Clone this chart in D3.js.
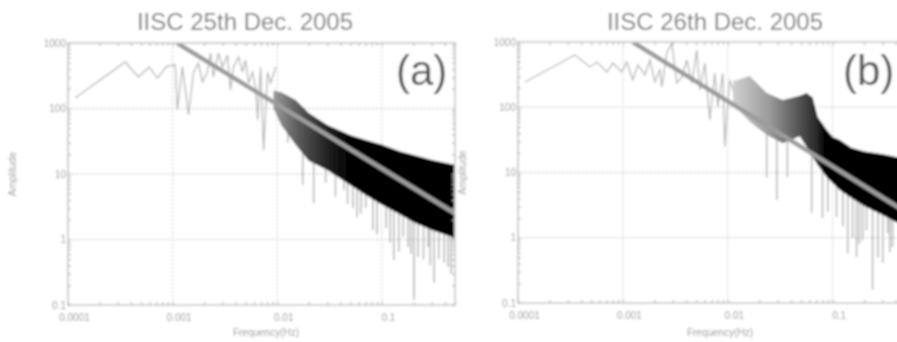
<!DOCTYPE html>
<html>
<head>
<meta charset="utf-8">
<script src="https://d3js.org/d3.v7.min.js"></script>
<style>
  body { margin: 0; background: white; }
  svg { display: block; font-family: "Liberation Sans", Arial, sans-serif; }
</style>
</head>
<body>
<div id="chart"></div>
<script>
// axis ticks shared by both panels
var xTicks = [0.0001, 0.001, 0.01, 0.1];
var xTickLabels = ["0.0001", "0.001", "0.01", "0.1"];
var yTicks = [0.1, 1, 10, 100, 1000];
var yTickLabels = ["0.1", "1", "10", "100", "1000"];

// panel (a) - IISC 25th Dec. 2005
var titleA = "IISC 25th Dec. 2005";
var lowFreqA = [1.17e-4, 3.52e-4, 4.69e-4, 5.98e-4, 7.14e-4, 8.89e-4, 1.06e-3, 1.11e-3, 1.24e-3, 1.42e-3, 1.58e-3,
  1.76e-3, 1.93e-3, 2.15e-3, 2.30e-3, 2.45e-3, 2.74e-3, 3.00e-3, 3.34e-3, 3.57e-3, 3.82e-3, 4.27e-3, 4.66e-3,
  4.97e-3, 5.32e-3, 5.81e-3, 6.21e-3, 6.49e-3, 6.93e-3, 7.41e-3, 8.09e-3, 8.65e-3, 9.66e-3];
var lowAmpA = [145, 513, 303, 431, 292, 446, 461, 95, 431, 80, 348, 495, 254, 360, 703, 303, 703, 431, 656, 191,
  431, 611, 360, 550, 245, 360, 206, 67, 431, 23, 360, 245, 431];
var bandFreqA = [0.0092, 0.011, 0.015, 0.02, 0.03, 0.05, 0.07, 0.1, 0.15, 0.2, 0.3, 0.5];
var bandHighA = [190, 175, 135, 85, 56, 39, 33, 28, 22, 19.5, 16.4, 13.7];
var bandLowA  = [100, 55, 28, 16, 11.5, 6.8, 4.8, 3.4, 2.4, 1.85, 1.4, 1.05];
var spikeFreqA = [0.0126, 0.0175, 0.0223, 0.029, 0.036, 0.0434, 0.047, 0.0528, 0.058, 0.063, 0.07, 0.082, 0.09,
  0.098, 0.11, 0.12, 0.13, 0.145, 0.16, 0.178, 0.19, 0.203, 0.222, 0.25, 0.277, 0.29, 0.316, 0.35, 0.394, 0.43,
  0.46, 0.48];
var spikeAmpA = [30, 6.8, 3.6, 7.3, 4.5, 5.7, 3.5, 3.0, 2.2, 2.5, 3.0, 1.4, 1.2, 4.0, 1.5, 0.9, 0.49, 0.65, 1.1,
  0.77, 0.6, 0.12, 0.54, 0.5, 0.77, 0.4, 0.22, 0.5, 0.44, 0.38, 0.3, 0.98];
var fitFreqA = [0.0011, 0.5];
var fitAmpA = [1000, 2.5];

// panel (b) - IISC 26th Dec. 2005
var titleB = "IISC 26th Dec. 2005";
var lowFreqB = [1.17e-4, 3.49e-4, 4.85e-4, 5.65e-4, 7.05e-4, 8.03e-4, 9.78e-4, 1.09e-3, 1.24e-3, 1.39e-3, 1.62e-3,
  1.81e-3, 2.02e-3, 2.25e-3, 2.35e-3, 2.62e-3, 2.93e-3, 3.27e-3, 3.65e-3, 4.07e-3, 4.54e-3, 5.07e-3, 5.41e-3,
  6.04e-3, 6.74e-3, 7.52e-3, 8.03e-3, 8.96e-3, 9.35e-3, 1.04e-2, 1.17e-2];
var lowAmpB = [244, 632, 414, 493, 347, 476, 347, 493, 262, 445, 312, 530, 244, 372, 204, 678, 966, 235, 291, 530,
  235, 754, 184, 476, 64, 335, 101, 335, 25, 262, 154];
var bandFreqB = [0.0112, 0.0162, 0.0235, 0.0334, 0.0485, 0.0565, 0.0645, 0.072, 0.0877, 0.1, 0.117, 0.15, 0.2,
  0.3, 0.4, 0.5];
var bandHighB = [250, 300, 165, 129, 150, 165, 140, 71, 45, 35, 31.5, 24, 21, 19, 17.3, 16];
var bandLowB  = [110, 60, 38, 28, 36, 24.6, 17.3, 13, 8.5, 6.9, 5.4, 4.1, 3.07, 2.23, 1.74, 1.5];
var spikeFreqB = [0.0235, 0.0293, 0.037, 0.063, 0.08, 0.09, 0.109, 0.125, 0.139, 0.155, 0.169, 0.18, 0.193, 0.21,
  0.24, 0.27, 0.30, 0.334, 0.35, 0.372];
var spikeAmpB = [8.5, 3.8, 8.5, 2.4, 2.0, 2.5, 2.1, 1.5, 0.58, 1.0, 0.51, 0.8, 0.92, 1.3, 0.16, 0.5, 0.41, 1.18,
  0.6, 0.72];
var fitFreqB = [0.00124, 0.5];
var fitAmpB = [1000, 2.48];

var W = 897, H = 342;
var svg = d3.select("#chart").append("svg").attr("width", W).attr("height", H);
var defs = svg.append("defs");

// the reference is a soft, low-resolution scan
defs.append("filter").attr("id", "soft")
  .attr("filterUnits", "userSpaceOnUse")
  .attr("x", 0).attr("y", 0).attr("width", W).attr("height", H)
  .append("feGaussianBlur").attr("stdDeviation", 1.0);

var root = svg.append("g").attr("filter", "url(#soft)");
root.append("rect").attr("width", W).attr("height", H).attr("fill", "white");

var panels = [
  {id: "a", title: titleA, tag: "(a)", left: 68, top: 43, width: 387, height: 262, titleX: 245, tagX: 396, xLabelX: 266,
   lowF: lowFreqA, lowA: lowAmpA, bandF: bandFreqA, bandHigh: bandHighA, bandLow: bandLowA,
   spikeF: spikeFreqA, spikeA: spikeAmpA, fitF: fitFreqA, fitA: fitAmpA,
   shade: [[0.0092, "#9a9a9a"], [0.016, "#5a5a5a"], [0.03, "#222"], [0.05, "#000"]]},
  {id: "b", title: titleB, tag: "(b)", left: 518, top: 42, width: 388, height: 261, titleX: 715, tagX: 843, xLabelX: 720,
   lowF: lowFreqB, lowA: lowAmpB, bandF: bandFreqB, bandHigh: bandHighB, bandLow: bandLowB,
   spikeF: spikeFreqB, spikeA: spikeAmpB, fitF: fitFreqB, fitA: fitAmpB,
   shade: [[0.011, "#d2d2d2"], [0.025, "#9a9a9a"], [0.045, "#5a5a5a"], [0.07, "#2a2a2a"], [0.085, "#000"]]}
];

function logInterp(fs, vs, f) {
  for (var i = 1; i < fs.length; i++) {
    if (f <= fs[i]) {
      var t = (Math.log(f) - Math.log(fs[i - 1])) / (Math.log(fs[i]) - Math.log(fs[i - 1]));
      return Math.exp(Math.log(vs[i - 1]) + t * (Math.log(vs[i]) - Math.log(vs[i - 1])));
    }
  }
  return vs[vs.length - 1];
}

panels.forEach(function(p) {
  var x = d3.scaleLog().domain([1e-4, 0.5]).range([0, p.width]);
  var y = d3.scaleLog().domain([0.1, 1000]).range([p.height, 0]);

  var g = root.append("g").attr("transform", "translate(" + p.left + "," + p.top + ")");

  defs.append("clipPath").attr("id", "clip-" + p.id)
    .append("rect").attr("width", p.width).attr("height", p.height);

  var grad = defs.append("linearGradient").attr("id", "shade-" + p.id)
    .attr("gradientUnits", "userSpaceOnUse")
    .attr("x1", 0).attr("x2", p.width).attr("y1", 0).attr("y2", 0);
  p.shade.forEach(function(s) {
    grad.append("stop").attr("offset", x(s[0]) / p.width).attr("stop-color", s[1]);
  });

  // dotted grid at the decades
  g.append("g").selectAll("line").data(xTicks).join("line")
    .attr("x1", d => x(d)).attr("x2", d => x(d)).attr("y1", 0).attr("y2", p.height)
    .attr("stroke", "#d2d2d2").attr("stroke-width", 1.3).attr("stroke-dasharray", "2,2");
  g.append("g").selectAll("line").data(yTicks.slice(1, -1)).join("line")
    .attr("x1", 0).attr("x2", p.width).attr("y1", d => y(d)).attr("y2", d => y(d))
    .attr("stroke", "#d2d2d2").attr("stroke-width", 1.3).attr("stroke-dasharray", "2,2");

  var plot = g.append("g").attr("clip-path", "url(#clip-" + p.id + ")");

  // sparse low-frequency part of the spectrum
  var line = d3.line().x(d => x(d[0])).y(d => y(d[1]));
  plot.append("path")
    .datum(p.lowF.map((f, i) => [f, p.lowA[i]]))
    .attr("d", line)
    .attr("fill", "none").attr("stroke", "#b4b4b4").attr("stroke-width", 1.3);

  // deep dips below the dense band
  plot.append("g").selectAll("line")
    .data(p.spikeF.map((f, i) => [f, p.spikeA[i]]))
    .join("line")
    .attr("x1", d => x(d[0])).attr("x2", d => x(d[0]))
    .attr("y1", d => y(logInterp(p.bandF, p.bandHigh, d[0])))
    .attr("y2", d => y(d[1]))
    .attr("stroke", "#b0b0b0").attr("stroke-width", 1.5);

  // dense high-frequency band
  var area = d3.area().x(d => x(d[0])).y0(d => y(d[2])).y1(d => y(d[1]));
  plot.append("path")
    .datum(p.bandF.map((f, i) => [f, p.bandHigh[i], p.bandLow[i]]))
    .attr("d", area)
    .attr("fill", "url(#shade-" + p.id + ")");

  // power-law fit
  plot.append("path")
    .datum(p.fitF.map((f, i) => [f, p.fitA[i]]))
    .attr("d", line)
    .attr("fill", "none").attr("stroke", "#9c9c9c").attr("stroke-width", 4.5);

  // frame
  g.append("rect").attr("width", p.width).attr("height", p.height)
    .attr("fill", "none").attr("stroke", "#cdcdcd").attr("stroke-width", 1.8);

  // inward ticks on all four sides
  var tickStyle = function(sel) {
    sel.select(".domain").remove();
    sel.selectAll("line").attr("stroke", "#bdbdbd").attr("stroke-width", 1.3);
  };
  var minorX = x.ticks();
  var minorY = y.ticks();
  g.append("g").attr("transform", "translate(0," + p.height + ")")
    .call(d3.axisBottom(x).tickValues(minorX).tickSize(-3).tickFormat("")).call(tickStyle);
  g.append("g")
    .call(d3.axisTop(x).tickValues(minorX).tickSize(-3).tickFormat("")).call(tickStyle);
  g.append("g")
    .call(d3.axisLeft(y).tickValues(minorY).tickSize(-3).tickFormat("")).call(tickStyle);
  g.append("g").attr("transform", "translate(" + p.width + ",0)")
    .call(d3.axisRight(y).tickValues(minorY).tickSize(-3).tickFormat("")).call(tickStyle);

  // tick labels
  var xl = g.append("g").attr("transform", "translate(0," + p.height + ")")
    .call(d3.axisBottom(x).tickValues(xTicks).tickSize(0).tickPadding(9)
      .tickFormat((d, i) => xTickLabels[i]));
  xl.select(".domain").remove();
  xl.selectAll("text").attr("dx", 6).attr("fill", "#9a9a9a")
    .style("font-size", "10px").style("font-family", "'Liberation Sans', Arial, sans-serif");

  var yl = g.append("g")
    .call(d3.axisLeft(y).tickValues(yTicks).tickSize(0).tickPadding(2)
      .tickFormat((d, i) => yTickLabels[i]));
  yl.select(".domain").remove();
  yl.selectAll("text").attr("fill", "#9a9a9a")
    .style("font-size", "10px").style("font-family", "'Liberation Sans', Arial, sans-serif");

  // titles and labels
  root.append("text").attr("x", p.titleX).attr("y", 30).attr("text-anchor", "middle")
    .attr("fill", "#7c7c7c").style("font-size", "24px").text(p.title);
  root.append("text").attr("x", p.tagX).attr("y", 85)
    .attr("fill", "#555").style("font-size", "42px").text(p.tag);
  root.append("text").attr("x", p.xLabelX).attr("y", 336).attr("text-anchor", "middle")
    .attr("fill", "#9a9a9a").style("font-size", "10px").text("Frequency(Hz)");
  root.append("text")
    .attr("transform", "translate(" + (p.left - 52) + "," + (p.top + p.height / 2) + ") rotate(-90)")
    .attr("text-anchor", "middle").attr("fill", "#9a9a9a").style("font-size", "10px").text("Amplitude");
});
</script>
</body>
</html>
